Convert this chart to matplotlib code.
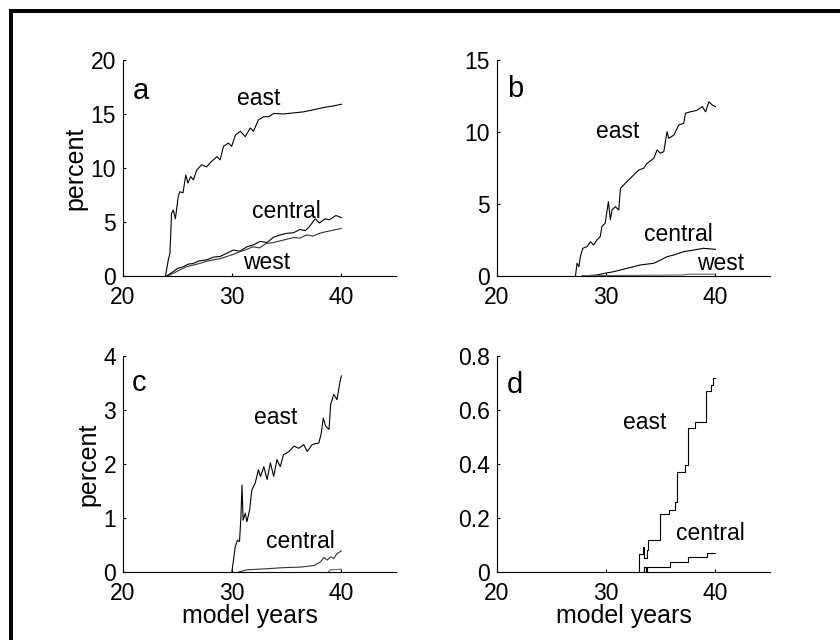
import numpy as np
import matplotlib.pyplot as plt
from matplotlib.patches import Rectangle

plt.rcParams['font.family'] = ['Liberation Sans', 'DejaVu Sans']

# panel a
a_east_x = [23.9, 24.15, 24.3, 24.45, 24.6, 24.8, 25.05, 25.2, 25.5, 25.75, 25.95, 26.2, 26.45,
            26.75, 27.2, 27.65, 28.1, 28.6, 28.9, 29.2, 29.65, 29.95, 30.3, 30.75, 31.2, 31.65,
            31.95, 32.4, 32.9, 33.35, 33.8, 34.7, 35.65, 36.55, 37.5, 38.4, 39.3, 40.0]
a_east_y = [0.0, 1.5, 2.1, 5.8, 6.1, 5.3, 7.3, 7.8, 7.7, 9.35, 8.6, 9.2, 8.9,
            9.8, 10.3, 10.1, 10.6, 11.05, 10.75, 12.0, 12.3, 12.0, 13.05, 13.4, 12.9, 13.7,
            13.4, 14.45, 14.75, 14.75, 15.05, 15.0, 15.1, 15.2, 15.4, 15.6, 15.75, 15.9]
a_central_x = [24.0, 24.6, 25.0, 25.5, 26.0, 26.4, 27.0, 27.7, 28.3, 28.9, 29.5, 30.1, 30.7,
               31.35, 32.0, 32.55, 33.2, 33.8, 34.4, 35.0, 35.6, 36.2, 36.7, 37.1, 37.6, 38.0,
               38.5, 38.9, 39.5, 40.0]
a_central_y = [0.0, 0.4, 0.7, 0.85, 1.1, 1.15, 1.4, 1.5, 1.75, 1.8, 2.1, 2.4, 2.3,
               2.7, 2.9, 3.2, 3.1, 3.6, 3.8, 3.95, 4.0, 4.3, 4.2, 4.6, 5.3, 4.9,
               5.3, 5.2, 5.6, 5.4]
a_west_x = [24.1, 24.5, 24.9, 25.3, 25.8, 26.4, 27.0, 27.6, 28.3, 28.9, 29.5, 30.1, 30.7,
            31.3, 31.9, 32.5, 33.1, 33.8, 34.4, 35.0, 35.6, 36.2, 36.8, 37.4, 38.0, 38.6,
            39.3, 40.0]
a_west_y = [0.0, 0.2, 0.4, 0.6, 0.85, 1.0, 1.15, 1.35, 1.5, 1.6, 1.8, 2.0, 2.25,
            2.45, 2.7, 2.6, 3.0, 3.1, 3.25, 3.4, 3.55, 3.5, 3.8, 3.7, 3.95, 4.1,
            4.25, 4.4]

# panel b
b_east_x = [27.18, 27.33, 27.5, 27.63, 27.85, 28.25, 28.55, 28.85, 29.15, 29.45, 29.6, 29.9, 30.2,
            30.38, 30.53, 30.84, 31.15, 31.3, 31.6, 31.9, 32.2, 32.5, 32.98, 33.43, 33.74, 34.35,
            34.66, 34.96, 35.27, 35.57, 35.73, 36.2, 36.64, 37.1, 37.25, 37.7, 38.3, 38.8, 39.1,
            39.4, 39.7, 40.0]
b_east_y = [0.0, 0.88, 0.65, 1.34, 1.92, 2.04, 2.38, 2.15, 2.5, 2.73, 3.43, 3.66, 5.16,
            3.9, 4.58, 4.81, 4.58, 6.09, 6.32, 6.55, 6.78, 7.0, 7.36, 7.48, 7.82, 8.17,
            8.75, 8.52, 8.63, 10.02, 9.56, 9.79, 10.49, 10.6, 11.3, 11.4, 11.5, 11.76, 11.4,
            12.1, 11.88, 11.76]
b_central_x = [27.8, 29.15, 29.9, 30.7, 31.9, 33.1, 34.35, 34.96, 35.57, 36.2, 37.1, 38.0, 38.9, 40.0]
b_central_y = [0.0, 0.07, 0.19, 0.3, 0.53, 0.76, 0.88, 1.1, 1.34, 1.46, 1.69, 1.8, 1.92, 1.85]
b_west_x = [28.0, 30.0, 34.0, 37.0, 37.5, 40.0]
b_west_y = [0.03, 0.03, 0.05, 0.07, 0.12, 0.12]

# panel c
c_east_x = [29.97, 30.12, 30.28, 30.49, 30.67, 30.8, 30.9, 31.0, 31.2, 31.35, 31.6, 31.8, 32.1,
            32.4, 32.6, 32.9, 33.2, 33.5, 33.8, 34.1, 34.4, 34.7, 35.2, 35.65, 36.1, 36.56,
            36.87, 37.33, 37.94, 38.16, 38.34, 38.56, 38.87, 39.02, 39.3, 39.6, 39.88, 40.0]
c_east_y = [0.0, 0.22, 0.47, 0.59, 0.56, 1.02, 1.61, 0.96, 1.09, 0.93, 1.15, 1.52, 1.64,
            1.89, 1.77, 1.95, 1.71, 2.02, 1.77, 2.08, 1.95, 2.17, 2.23, 2.33, 2.29, 2.36,
            2.23, 2.36, 2.39, 2.57, 2.85, 2.7, 2.64, 3.1, 3.29, 3.19, 3.53, 3.63]
c_central_x = [30.6, 31.35, 33.2, 34.7, 36.25, 37.5, 38.1, 38.4, 38.7, 39.0, 39.3, 39.6, 40.0]
c_central_y = [0.0, 0.04, 0.06, 0.08, 0.09, 0.12, 0.19, 0.27, 0.22, 0.28, 0.25, 0.34, 0.39]
c_west_x = [38.8, 39.0, 40.0]
c_west_y = [0.0, 0.04, 0.05]

# panel d (step curves)
d_east_x = [32.82, 32.98, 33.37, 33.5, 33.74, 33.83, 34.96, 35.73, 36.34, 36.49, 37.2, 37.5,
            38.1, 39.17, 39.6, 39.76, 40.0]
d_east_y = [0.0, 0.068, 0.093, 0.05, 0.08, 0.117, 0.216, 0.229, 0.26, 0.37, 0.396, 0.532,
            0.556, 0.671, 0.692, 0.717, 0.717]
d_central_x = [33.37, 33.5, 33.62, 33.74, 35.8, 37.5, 39.2, 40.0]
d_central_y = [0.0, 0.019, 0.0, 0.019, 0.037, 0.056, 0.072, 0.072]

panels = [
    dict(pos=[0.1464, 0.5688, 0.325, 0.3375], ymax=20, yticks=[0, 5, 10, 15, 20],
         lines=[(a_east_x, a_east_y, 'k'), (a_central_x, a_central_y, 'k'), (a_west_x, a_west_y, '#333333')],
         labels=[('a', 20.9, 16.4, 21), ('east', 30.46, 15.8, 16.5), ('central', 31.8, 5.4, 16.5),
                 ('west', 31.0, 0.65, 16.5)], ylabel=True, xlabel=False, step=False),
    dict(pos=[0.5917, 0.5688, 0.325, 0.3375], ymax=15, yticks=[0, 5, 10, 15],
         lines=[(b_east_x, b_east_y, 'k'), (b_central_x, b_central_y, 'k'), (b_west_x, b_west_y, '#666666')],
         labels=[('b', 20.9, 12.4, 21), ('east', 29.1, 9.55, 16.5), ('central', 33.5, 2.45, 16.5),
                 ('west', 38.35, 0.42, 16.5)], ylabel=False, xlabel=False, step=False),
    dict(pos=[0.1464, 0.1063, 0.325, 0.3375], ymax=4, yticks=[0, 1, 2, 3, 4],
         lines=[(c_east_x, c_east_y, 'k'), (c_central_x, c_central_y, '#333333'), (c_west_x, c_west_y, '#666666')],
         labels=[('c', 20.8, 3.35, 21), ('east', 32.0, 2.74, 16.5), ('central', 33.1, 0.44, 16.5)],
         ylabel=True, xlabel=True, step=False),
    dict(pos=[0.5917, 0.1063, 0.325, 0.3375], ymax=0.8, yticks=[0, 0.2, 0.4, 0.6, 0.8],
         lines=[(d_east_x, d_east_y, 'k'), (d_central_x, d_central_y, 'k')],
         labels=[('d', 20.9, 0.664, 21), ('east', 31.55, 0.53, 16.5), ('central', 36.4, 0.12, 16.5)],
         ylabel=False, xlabel=True, step=True),
]

fig = plt.figure(figsize=(8.4, 6.4), dpi=100)

for p in panels:
    ax = fig.add_axes(p['pos'])
    for xs, ys, col in p['lines']:
        if p['step']:
            ax.plot(xs, ys, color=col, lw=0.8, drawstyle='steps-post')
        else:
            ax.plot(xs, ys, color=col, lw=0.8)
    ax.set_xlim(20, 45)
    ax.set_ylim(0, p['ymax'])
    ax.set_xticks([20, 30, 40])
    ax.set_yticks(p['yticks'])
    if p['ymax'] < 1:
        ax.set_yticklabels(['0', '0.2', '0.4', '0.6', '0.8'])
    ax.spines['top'].set_visible(False)
    ax.spines['right'].set_visible(False)
    ax.spines['left'].set_linewidth(0.8)
    ax.spines['bottom'].set_linewidth(0.8)
    ax.tick_params(direction='in', length=2.5, width=0.8, labelsize=16.5)
    ax.tick_params(axis='x', pad=7)
    ax.tick_params(axis='y', pad=5)
    for txt, tx, ty, fs in p['labels']:
        ax.text(tx, ty, txt, fontsize=fs, ha='left', va='baseline')
    if p['ylabel']:
        ax.set_ylabel('percent', fontsize=18, labelpad=2)
    if p['xlabel']:
        ax.set_xlabel('model years', fontsize=18, labelpad=0)
        ax.xaxis.set_label_coords(0.465, -0.15)

# frame edges of the cropped figure
fig.add_artist(Rectangle((9 / 840, 1 - 13 / 640), 1.0, 4 / 640, transform=fig.transFigure,
                         color='k', lw=0))
fig.add_artist(Rectangle((9 / 840, 0.0), 4 / 840, 1 - 9 / 640, transform=fig.transFigure,
                         color='k', lw=0))

fig.savefig('out.png', dpi=100, facecolor='white')
